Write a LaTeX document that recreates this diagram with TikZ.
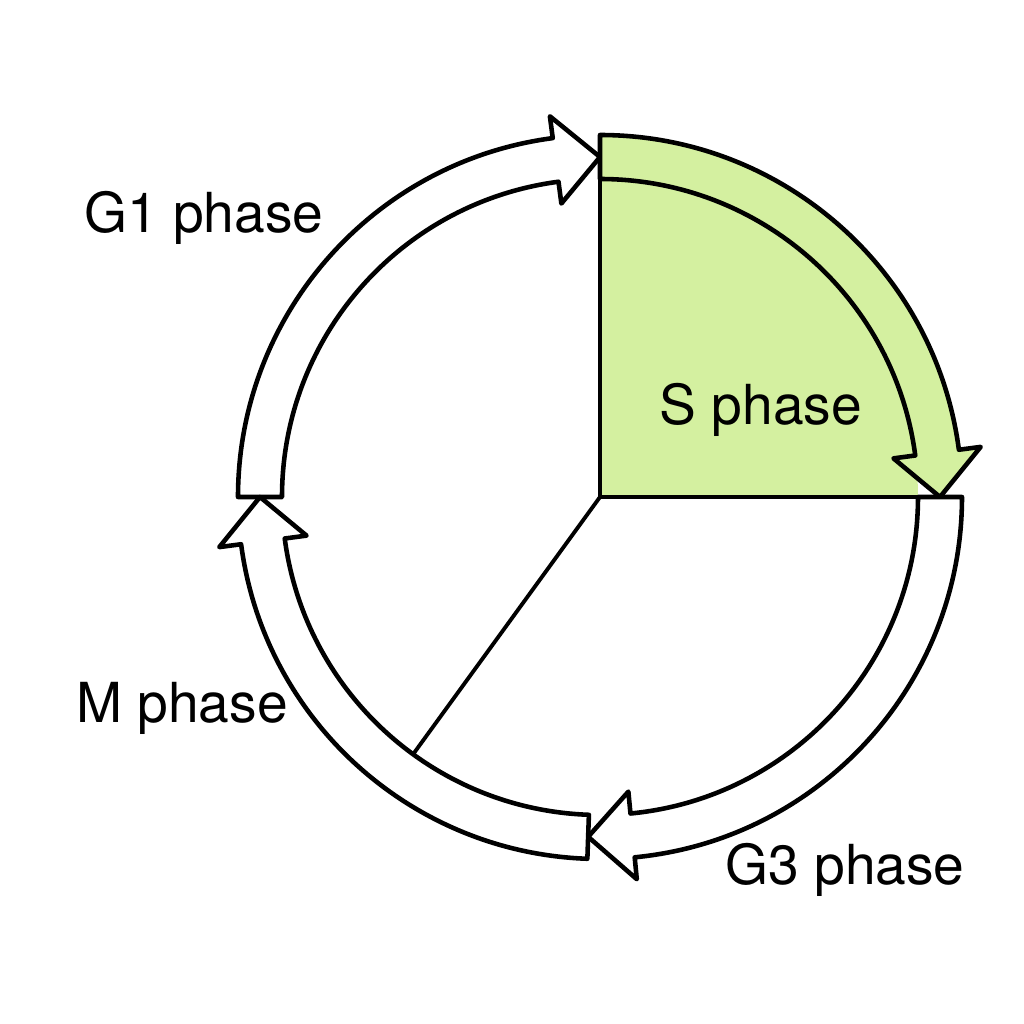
\documentclass[tikz,border=0pt]{standalone}
\usepackage{fontspec}
\setmainfont{TeX Gyre Heros}
\definecolor{sgreen}{RGB}{212,240,160}

\begin{document}
\begin{tikzpicture}[
  font=\fontsize{15.7}{19}\selectfont,
  phase/.style={draw=black, line width=1.3pt, line join=round, fill=white},
  spoke/.style={draw=black, line width=1.1pt},
]
\useasboundingbox (0,0) rectangle (10.24,10.24);

\begin{scope}[shift={(6.00,5.27)}]
\coordinate (c) at (0,0);

% S sector
\fill[sgreen] (c) -- (0:3.18) arc[start angle=0, end angle=90, radius=3.18] -- cycle;

% G1 arrow
\draw[phase] (180:3.18) -- (180:3.62) arc[start angle=180, end angle=97.5, radius=3.62]
  -- (97.5:3.84) -- (90:3.40) -- (97.5:2.96) -- (97.5:3.18)
  arc[start angle=97.5, end angle=180, radius=3.18] -- cycle;

% S arrow
\draw[phase, fill=sgreen] (90:3.18) -- (90:3.62) arc[start angle=90, end angle=7.5, radius=3.62]
  -- (7.5:3.84) -- (0:3.40) coordinate (stip) -- (7.5:2.96) -- (7.5:3.18)
  arc[start angle=7.5, end angle=90, radius=3.18] -- cycle;

% G3 arrow
\draw[phase] (0:3.18) -- (0:3.62) arc[start angle=0, end angle=-84.5, radius=3.62]
  -- (-84.5:3.84) -- (-92:3.40) -- (-84.5:2.96) -- (-84.5:3.18)
  arc[start angle=-84.5, end angle=0, radius=3.18] -- cycle;

% M arrow
\draw[phase] (-92:3.18) -- (-92:3.62) arc[start angle=-92, end angle=-172.5, radius=3.62]
  -- (-172.5:3.84) -- (-180:3.40) -- (-172.5:2.96) -- (-172.5:3.18)
  arc[start angle=-172.5, end angle=-92, radius=3.18] -- cycle;

% spokes
\coordinate (stop) at (90:3.18);
\coordinate (mend) at (234:3.18);
\draw[spoke] (stop) -- (c) -- (stip);
\draw[spoke] (c) -- (mend);
\end{scope}

% labels
\node[anchor=base] (g1label) at (2.04,7.91) {G1 phase};
\node[anchor=base] (slabel) at (7.61,5.99) {S phase};
\node[anchor=base] (mlabel) at (1.82,3.01) {M phase};
\node[anchor=base] (g3label) at (8.45,1.39) {G3 phase};

\end{tikzpicture}
\end{document}
